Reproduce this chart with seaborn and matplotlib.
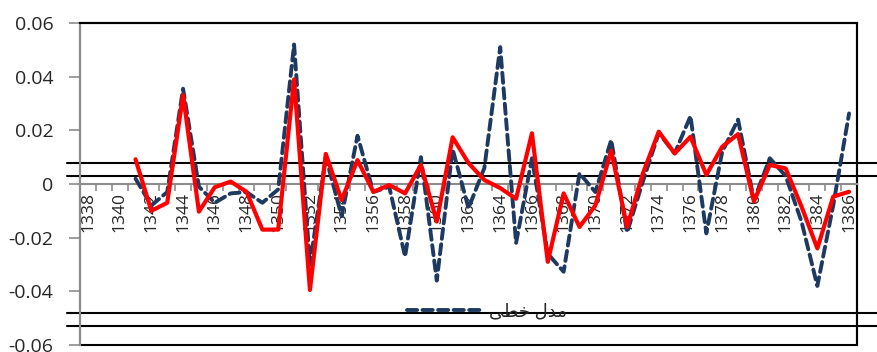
import seaborn as sns
import matplotlib.pyplot as plt
import matplotlib.patches as patches
from matplotlib.lines import Line2D
import pandas as pd
import numpy as np

# years on the category axis
all_years = list(range(1338, 1387))
years = list(range(1341, 1387))

# linear model (dashed navy)
linear_vals = [0.002, -0.008, -0.003, 0.0355, -0.001, -0.007, -0.0035, -0.003, -0.007, -0.002,
               0.052, -0.030, 0.010, -0.012, 0.018, -0.003, -0.001, -0.027, 0.010, -0.036,
               0.013, -0.009, 0.006, 0.051, -0.022, 0.0096, -0.026, -0.0327, 0.004, -0.003,
               0.0164, -0.018, 0.001, 0.019, 0.0114, 0.0253, -0.0184, 0.012, 0.024, -0.006,
               0.0096, 0.003, -0.014, -0.038, -0.008, 0.0263]

# second model (solid red)
other_vals = [0.0092, -0.010, -0.007, 0.0331, -0.0103, -0.0012, 0.0009, -0.0029, -0.017, -0.017,
              0.039, -0.0395, 0.0112, -0.006, 0.0089, -0.0029, -0.0004, -0.0035, 0.0071, -0.014,
              0.0174, 0.0078, 0.0015, -0.0015, -0.0055, 0.0189, -0.029, -0.0035, -0.016, -0.008,
              0.0124, -0.016, 0.004, 0.0195, 0.0114, 0.0176, 0.0034, 0.0139, 0.0186, -0.0065,
              0.0071, 0.0058, -0.0084, -0.024, -0.0047, -0.0029]

legend_label = "مدل خطی"
y_ticks = [-0.06, -0.04, -0.02, 0, 0.02, 0.04, 0.06]
y_tick_labels = ["-0.06", "-0.04", "-0.02", "0", "0.02", "0.04", "0.06"]

# stray horizontal rules in the original picture (data units)
rule_levels = [0.0077, 0.003, -0.0482, -0.0531]


def shape_arabic(text):
    # minimal contextual shaping + visual reordering for the label letters
    forms = {  # isolated, final, initial, medial
        "م": ("\uFEE1", "\uFEE2", "\uFEE3", "\uFEE4"),
        "د": ("\uFEA9", "\uFEAA", None, None),
        "ل": ("\uFEDD", "\uFEDE", "\uFEDF", "\uFEE0"),
        "خ": ("\uFEA5", "\uFEA6", "\uFEA7", "\uFEA8"),
        "ط": ("\uFEC1", "\uFEC2", "\uFEC3", "\uFEC4"),
        "ی": ("\uFBFC", "\uFBFD", "\uFBFE", "\uFBFF"),
    }
    out = []
    for i, ch in enumerate(text):
        if ch not in forms:
            out.append(ch)
            continue
        prev = text[i - 1] if i > 0 else None
        nxt = text[i + 1] if i < len(text) - 1 else None
        join_prev = prev in forms and forms[prev][2] is not None
        join_next = nxt in forms and forms[ch][2] is not None
        f = forms[ch]
        if join_prev and join_next:
            out.append(f[3])
        elif join_prev:
            out.append(f[1])
        elif join_next:
            out.append(f[2])
        else:
            out.append(f[0])
    return "".join(reversed(out))


df = pd.DataFrame({"year": years, "linear": linear_vals, "other": other_vals})

sns.set_style("white")
plt.rcParams["font.family"] = ["Open Sans", "DejaVu Sans"]

fig = plt.figure(figsize=(8.77, 3.52), dpi=100)
ax = fig.add_axes([80 / 877, 7 / 352, 777 / 877, 322 / 352])

navy = "#1F3A60"
sns.lineplot(data=df, x="year", y="linear", ax=ax, color=navy, linewidth=2.8,
             linestyle=(0, (2.6, 1.4)), dash_capstyle="round", zorder=3)
sns.lineplot(data=df, x="year", y="other", ax=ax, color="#FF0000", linewidth=3.0, zorder=4)

ax.set_xlim(all_years[0] - 0.5, all_years[-1] + 0.5)
ax.set_ylim(-0.06, 0.06)
ax.set_xlabel("")
ax.set_ylabel("")

# category axis crossing at zero
grey = "#8C8C8C"
ax.spines["bottom"].set_position(("data", 0))
ax.spines["bottom"].set_color(grey)
ax.spines["bottom"].set_linewidth(1.5)
ax.spines["left"].set_color(grey)
ax.spines["left"].set_linewidth(1.5)
ax.spines["top"].set_color("black")
ax.spines["top"].set_linewidth(1.5)
ax.spines["right"].set_color("black")
ax.spines["right"].set_linewidth(1.5)
ax.add_patch(patches.Rectangle((0, 0), 1, 1, transform=ax.transAxes, fill=False,
                               edgecolor="black", linewidth=1.5, clip_on=False, zorder=1))

ax.set_xticks(all_years[::2])
ax.set_xticklabels([str(y) for y in all_years[::2]], rotation=90, fontsize=12.5)
ax.set_xticks(np.arange(all_years[0] - 0.5, all_years[-1] + 1), minor=True)
ax.tick_params(axis="x", which="major", bottom=True, length=0, pad=6)
ax.tick_params(axis="x", which="minor", bottom=True, length=5, width=1.2, color=grey,
               direction="out")

ax.set_yticks(y_ticks)
ax.set_yticklabels(y_tick_labels, fontsize=14)
ax.tick_params(axis="y", left=True, length=8, width=1.2, color=grey, direction="out", pad=11)

for lvl in rule_levels:
    ax.axhline(lvl, xmin=-13 / 777, xmax=797 / 777, color="black", linewidth=1.5,
               clip_on=False, zorder=2)

handle = Line2D([], [], color=navy, linewidth=2.8, linestyle=(0, (2.6, 1.4)),
                dash_capstyle="round")
ax.legend([handle], [shape_arabic(legend_label)], loc="center", frameon=False,
          bbox_to_anchor=(487 / 877, 1 - 311 / 352), bbox_transform=fig.transFigure,
          fontsize=13, handlelength=4.2, handletextpad=0.3)

plt.savefig("out.png", dpi=100)
